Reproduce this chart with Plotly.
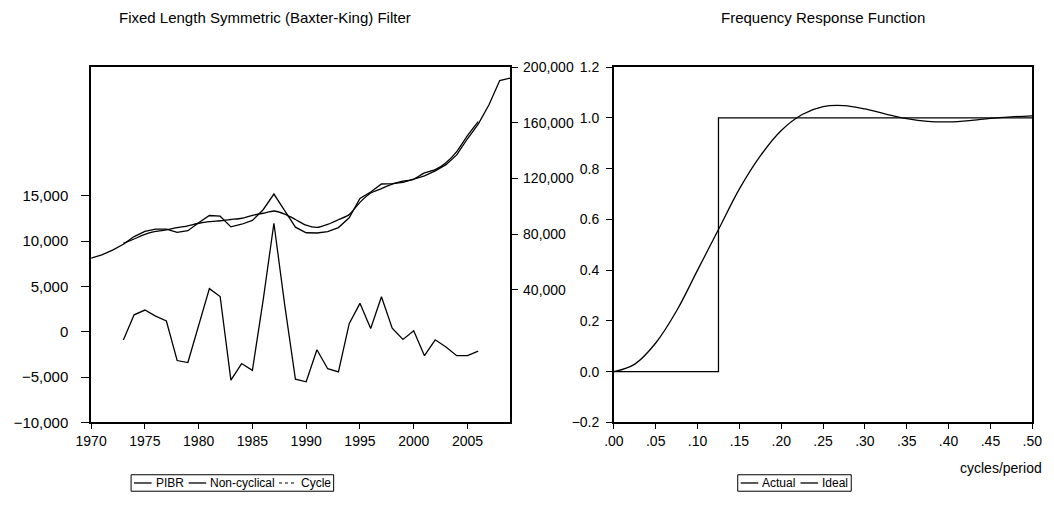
import plotly.graph_objects as go

# ---------------- data ----------------
years = list(range(1970, 2010))
pibr = [62750, 65040, 68520, 72690, 78260, 81960, 83600, 83600, 81250, 82430,
        88210, 93350, 92870, 85220, 87090, 89870, 97520, 108800, 96830, 85000,
        81000, 80800, 81800, 84700, 91700, 105600, 110300, 116000, 116300, 117200,
        119500, 121900, 125400, 129900, 136900, 148500, 159000, 172900, 190300, 192100]

cyc_years = list(range(1973, 2007))
noncyclical = [73300, 76500, 79800, 81900, 83000, 84600, 85900, 87800, 89000, 89600,
               90500, 91400, 93500, 95000, 96600, 94300, 90500, 86400, 84800, 87000,
               90300, 94000, 102800, 109500, 112700, 115900, 118000, 119400, 124000, 126300,
               131300, 139300, 150800, 160800]
cycle = [-900, 1870, 2400, 1730, 1190, -3170, -3390, 600, 4760, 3890,
         -5330, -3500, -4250, 3500, 11970, 3000, -5230, -5510, -1980, -4070,
         -4430, 900, 3140, 360, 3860, 400, -840, 110, -2630, -880,
         -1670, -2630, -2630, -2130]

freq = [0.0, 0.025, 0.05, 0.075, 0.1, 0.125, 0.15, 0.175, 0.2, 0.225, 0.25,
        0.275, 0.3, 0.325, 0.35, 0.375, 0.4, 0.425, 0.45, 0.475, 0.5]
actual = [0.0, 0.03, 0.113, 0.24, 0.40, 0.56, 0.72, 0.85, 0.95, 1.013, 1.044,
          1.048, 1.035, 1.015, 0.997, 0.986, 0.984, 0.989, 0.998, 1.004, 1.008]
ideal_x = [0.0, 0.125, 0.125, 0.5]
ideal_y = [0.0, 0.0, 1.0, 1.0]

left_ticks = [-10000, -5000, 0, 5000, 10000, 15000]
right_ticks = [40000, 80000, 120000, 160000, 200000]
year_ticks = [1970, 1975, 1980, 1985, 1990, 1995, 2000, 2005]
freq_ticks = [0.0, 0.05, 0.10, 0.15, 0.20, 0.25, 0.30, 0.35, 0.40, 0.45, 0.50]
freq_labels = [".00", ".05", ".10", ".15", ".20", ".25", ".30", ".35", ".40", ".45", ".50"]

left_legend = ["PIBR", "Non-cyclical", "Cycle"]
right_legend = ["Actual", "Ideal"]

# ---------------- figure ----------------
W, H = 1054, 506
FONT = "Liberation Sans, Arial, sans-serif"
fig = go.Figure()

lw = 1.3
fig.add_trace(go.Scatter(x=years, y=pibr, name=left_legend[0], mode="lines",
                         line=dict(color="black", width=lw), xaxis="x", yaxis="y2"))
fig.add_trace(go.Scatter(x=cyc_years, y=noncyclical, name=left_legend[1], mode="lines",
                         line=dict(color="black", width=lw, shape="spline", smoothing=0.6),
                         xaxis="x", yaxis="y2"))
fig.add_trace(go.Scatter(x=cyc_years, y=cycle, name=left_legend[2], mode="lines",
                         line=dict(color="black", width=lw), xaxis="x", yaxis="y"))

fig.add_trace(go.Scatter(x=freq, y=actual, name=right_legend[0], mode="lines",
                         line=dict(color="black", width=lw, shape="spline"),
                         xaxis="x3", yaxis="y3"))
fig.add_trace(go.Scatter(x=ideal_x, y=ideal_y, name=right_legend[1], mode="lines",
                         line=dict(color="black", width=lw),
                         xaxis="x3", yaxis="y3"))

def px_x(p):
    return p / W

def px_y(p):
    return 1 - p / H

ydom = [px_y(428), px_y(61)]
base_axis = dict(showline=True, linecolor="black", linewidth=1.6, ticks="outside",
                 tickcolor="black", tickwidth=1, showgrid=False, zeroline=False)
xtick_font = dict(family=FONT, size=14, color="black")

# ---- compact boxed legends (layout decorations) ----
LEG_FONT = 12
CHAR_W = {"P": .667, "I": .278, "B": .667, "R": .722, "N": .722, "o": .556, "n": .556,
          "-": .333, "c": .5, "y": .5, "l": .222, "i": .222, "a": .556, "C": .722,
          "e": .556, "A": .667, "t": .278, "u": .556, "d": .556}

def text_w(s):
    return sum(CHAR_W.get(ch, .556) for ch in s) * LEG_FONT

shapes, annos = [], []

def add_legend(names, left, top, bottom, dotted_last=False):
    pad, seg, gap1, gap2 = 3, 18, 2, 8
    x = left + pad
    ymid = (top + bottom) / 2
    for k, nm in enumerate(names):
        last_dot = dotted_last and k == len(names) - 1
        shapes.append(dict(type="line", xref="paper", yref="paper",
                           x0=px_x(x), x1=px_x(x + seg), y0=px_y(ymid), y1=px_y(ymid),
                           line=dict(color="black", width=1.0 if last_dot else 1.3,
                                     dash="dot" if last_dot else "solid")))
        x += seg + gap1
        annos.append(dict(text=nm, x=px_x(x), y=px_y(ymid + 0.5), xref="paper", yref="paper",
                          showarrow=False, xanchor="left", yanchor="middle",
                          font=dict(family=FONT, size=LEG_FONT, color="black")))
        x += text_w(nm) + gap2
    right = x - gap2 + pad + 3
    shapes.append(dict(type="rect", xref="paper", yref="paper",
                       x0=px_x(left), x1=px_x(right), y0=px_y(bottom), y1=px_y(top),
                       line=dict(color="black", width=1), fillcolor="rgba(0,0,0,0)"))

add_legend(left_legend, 118, 482, 499, dotted_last=True)
add_legend(right_legend, 740, 482, 499)

annos += [
    dict(text="Fixed Length Symmetric (Baxter-King) Filter", x=px_x(255), y=px_y(10),
         xref="paper", yref="paper", showarrow=False, xanchor="center", yanchor="middle",
         font=dict(family=FONT, size=15, color="black")),
    dict(text="Frequency Response Function", x=px_x(827), y=px_y(10),
         xref="paper", yref="paper", showarrow=False, xanchor="center", yanchor="middle",
         font=dict(family=FONT, size=15, color="black")),
    dict(text="cycles/period", x=px_x(1054), y=px_y(475),
         xref="paper", yref="paper", showarrow=False, xanchor="right", yanchor="middle",
         font=dict(family=FONT, size=14, color="black")),
]

fig.update_layout(
    width=W, height=H, margin=dict(l=0, r=0, t=0, b=0),
    paper_bgcolor="white", plot_bgcolor="white", showlegend=False,
    font=dict(family=FONT, size=14, color="black"),
    xaxis=dict(domain=[px_x(77), px_x(507)], range=[1970, 2009], tickvals=year_ticks,
               mirror=True, anchor="y", ticklen=5, tickfont=xtick_font, **base_axis),
    yaxis=dict(domain=ydom, range=[-10000, 29200], tickvals=left_ticks,
               tickformat=",d", anchor="x", ticklen=8, ticklabelstandoff=10,
               tickfont=dict(family=FONT, size=15, color="black"), **base_axis),
    yaxis2=dict(domain=ydom, range=[-55300, 200000], tickvals=right_ticks,
                tickformat=",d", overlaying="y", side="right", anchor="x", ticklen=6,
                ticklabelstandoff=2, tickfont=dict(family=FONT, size=14, color="black"),
                **base_axis),
    xaxis3=dict(domain=[px_x(613), px_x(1042)], range=[0, 0.5], tickvals=freq_ticks,
                ticktext=freq_labels, mirror=True, anchor="y3", ticklen=5,
                tickfont=xtick_font, **base_axis),
    yaxis3=dict(domain=ydom, range=[-0.2, 1.2], tickvals=[-0.2, 0, 0.2, 0.4, 0.6, 0.8, 1.0, 1.2],
                tickformat=".1f", mirror=True, anchor="x3", ticklen=6, ticklabelstandoff=4,
                tickfont=dict(family=FONT, size=14, color="black"), **base_axis),
    shapes=shapes,
    annotations=annos,
)

fig.write_html("out.html")
